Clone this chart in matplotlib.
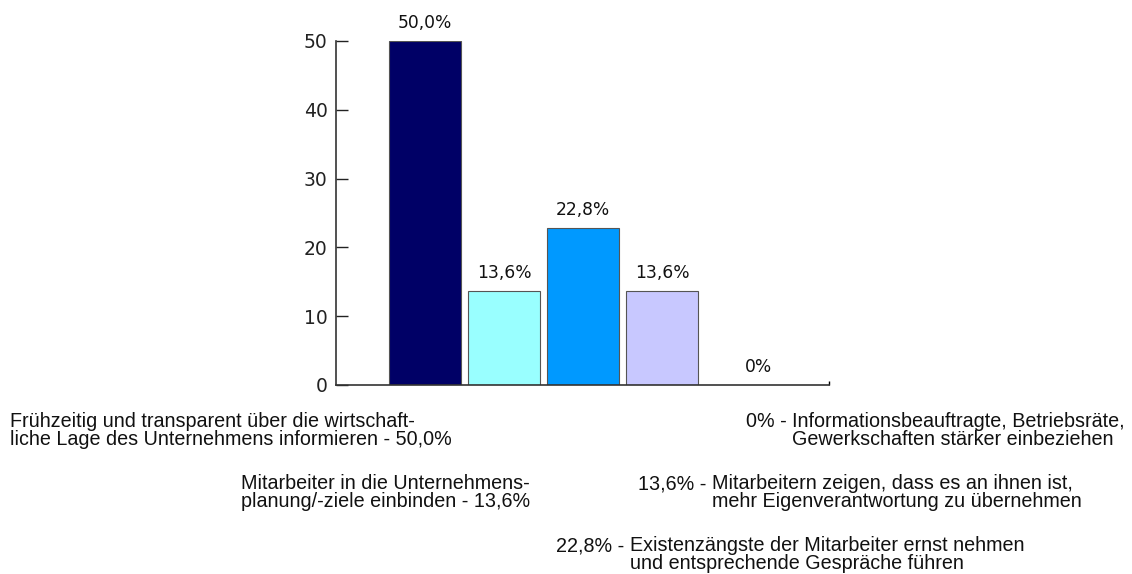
import matplotlib.pyplot as plt

# Daten
werte = [50.0, 13.6, 22.8, 13.6, 0.0]
farben = ['#000066', '#99FFFF', '#0099FF', '#C8C8FF', '#FFFFFF']
kategorien = [
    ['Frühzeitig und transparent über die wirtschaft-', 'liche Lage des Unternehmens informieren'],
    ['Mitarbeiter in die Unternehmens-', 'planung/-ziele einbinden'],
    ['Existenzängste der Mitarbeiter ernst nehmen', 'und entsprechende Gespräche führen'],
    ['Mitarbeitern zeigen, dass es an ihnen ist,', 'mehr Eigenverantwortung zu übernehmen'],
    ['Informationsbeauftragte, Betriebsräte,', 'Gewerkschaften stärker einbeziehen'],
]
y_ticks = [0, 10, 20, 30, 40, 50]


def prozent(v):
    if v == 0:
        return '0%'
    return f'{v:.1f}'.replace('.', ',') + '%'


fig = plt.figure(figsize=(11.32, 5.74), dpi=100)
ax = fig.add_axes([0.2968, 0.3293, 0.4355, 0.5993])

for i, v in enumerate(werte):
    if v > 0:
        ax.bar(i, v, width=0.91, color=farben[i], edgecolor='#555555', linewidth=0.8)
    dx = 0.22 if v == 0 else 0
    ax.text(i + dx, v + 1.3, prozent(v), ha='center', va='bottom',
            fontsize=12.3, family='DejaVu Sans', color='#111111')

ax.set_xlim(-1.13, 5.11)
ax.set_ylim(0, 50)
ax.set_yticks(y_ticks)
ax.set_yticklabels([str(t) for t in y_ticks], fontsize=13.5, family='DejaVu Sans')
ax.tick_params(axis='y', direction='in', length=8.5, width=1, pad=6, colors='#222222')
ax.set_xticks([5.11])
ax.set_xticklabels([''])
ax.tick_params(axis='x', direction='in', length=3, width=1)
for s in ['top', 'right']:
    ax.spines[s].set_visible(False)
for s in ['left', 'bottom']:
    ax.spines[s].set_linewidth(1.2)
    ax.spines[s].set_color('#333333')

# Beschriftungen unten
fs = 14.2
fam = ['Liberation Sans', 'DejaVu Sans']
W, H = 1132, 574
abstand = 18


def zeile(xp, yp, s, ha='left'):
    fig.text(xp / W, 1 - yp / H, s, ha=ha, va='baseline', fontsize=fs, family=fam, color='#111111')


# links: Text mit Prozentangabe am Ende
links = [(0, 10, 427), (1, 241, 489)]
for idx, xp, yp in links:
    zeile(xp, yp, kategorien[idx][0])
    zeile(xp, yp + abstand, kategorien[idx][1] + ' - ' + prozent(werte[idx]))

# rechts: Prozentangabe vorne, hängender Einzug
rechts = [(4, 792, 427), (3, 712, 489), (2, 630, 551)]
for idx, xp, yp in rechts:
    zeile(xp, yp, prozent(werte[idx]) + ' - ', ha='right')
    zeile(xp, yp, kategorien[idx][0])
    zeile(xp, yp + abstand, kategorien[idx][1])

fig.savefig('out.png', dpi=100, facecolor='white')
